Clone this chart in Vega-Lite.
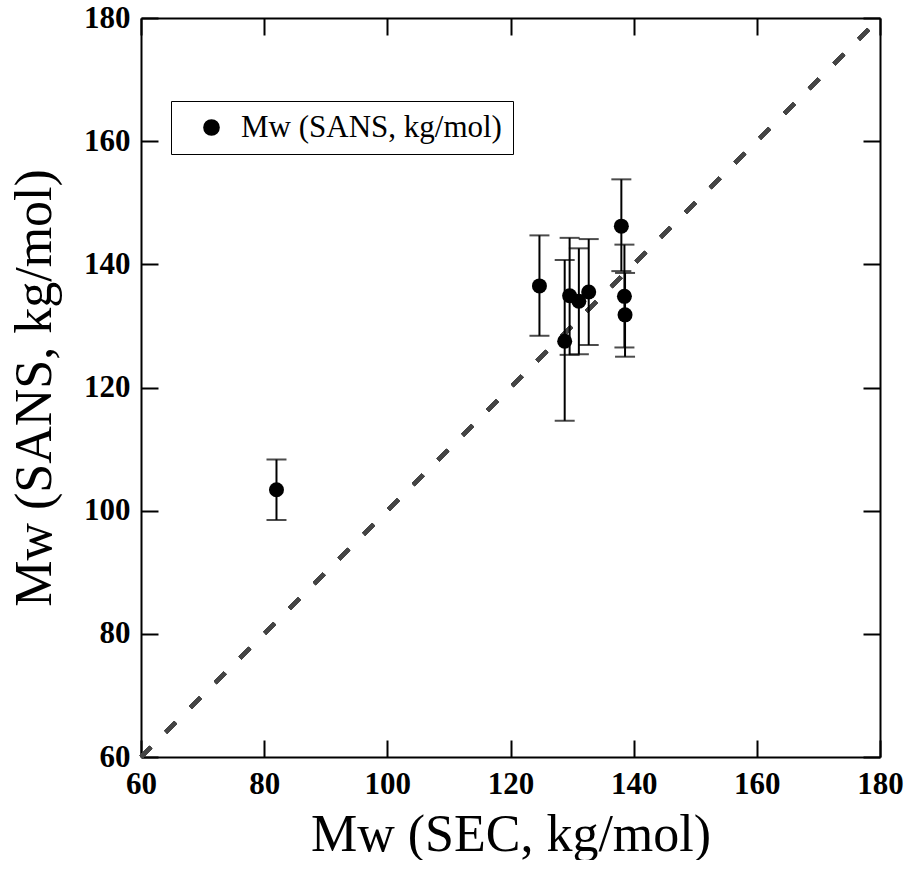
{
  "$schema": "https://vega.github.io/schema/vega-lite/v6.json",
  "width": 739,
  "height": 739,
  "padding": {"left": 8, "top": 2, "right": 2, "bottom": 0},
  "background": "white",
  "config": {
    "view": {"stroke": null},
    "axis": {
      "grid": false,
      "labelFlush": false,
      "domainColor": "black",
      "domainWidth": 2,
      "tickColor": "black",
      "tickWidth": 2,
      "tickSize": -17,
      "labelFont": "Liberation Serif",
      "labelFontWeight": "bold",
      "labelFontSize": 31,
      "labelColor": "black",
      "titleFont": "Liberation Serif",
      "titleFontWeight": "normal",
      "titleFontSize": 52,
      "titleColor": "black"
    }
  },
  "data": {
    "values": [
      {"sec": 82.0, "sans": 103.4, "lo": 98.5, "hi": 108.3},
      {"sec": 124.7, "sans": 136.5, "lo": 128.4, "hi": 144.7},
      {"sec": 128.8, "sans": 127.5, "lo": 114.6, "hi": 140.7},
      {"sec": 129.6, "sans": 134.9, "lo": 125.3, "hi": 144.3},
      {"sec": 131.1, "sans": 134.0, "lo": 125.4, "hi": 142.6},
      {"sec": 132.7, "sans": 135.5, "lo": 126.9, "hi": 144.1},
      {"sec": 138.0, "sans": 146.2, "lo": 138.9, "hi": 153.8},
      {"sec": 138.5, "sans": 134.8, "lo": 126.5, "hi": 143.2},
      {"sec": 138.6, "sans": 131.8, "lo": 125.0, "hi": 138.6}
    ]
  },
  "layer": [
    {
      "mark": {"type": "rule", "color": "#454545", "strokeWidth": 4, "strokeDash": [14, 21]},
      "encoding": {
        "x": {"datum": 60, "type": "quantitative", "scale": {"domain": [60, 180], "nice": false, "zero": false},
              "axis": {"orient": "top", "labels": false, "title": null, "values": [60, 80, 100, 120, 140, 160, 180]}},
        "y": {"datum": 60, "type": "quantitative", "scale": {"domain": [60, 180], "nice": false, "zero": false},
              "axis": {"orient": "right", "labels": false, "title": null, "values": [60, 80, 100, 120, 140, 160, 180]}},
        "x2": {"datum": 180},
        "y2": {"datum": 180}
      }
    },
    {
      "mark": {"type": "errorbar", "ticks": {"size": 20, "thickness": 2, "color": "black"}, "rule": {"strokeWidth": 2, "color": "black"}},
      "encoding": {
        "x": {"field": "sec", "type": "quantitative", "scale": {"domain": [60, 180], "nice": false, "zero": false}, "axis": null},
        "y": {"field": "lo", "type": "quantitative", "scale": {"domain": [60, 180], "nice": false, "zero": false}, "axis": null},
        "y2": {"field": "hi"}
      }
    },
    {
      "mark": {"type": "point", "filled": true, "size": 225, "opacity": 1, "shape": "circle"},
      "encoding": {
        "x": {"field": "sec", "type": "quantitative", "scale": {"domain": [60, 180], "nice": false, "zero": false},
              "axis": {"orient": "bottom", "title": "Mw (SEC, kg/mol)", "values": [60, 80, 100, 120, 140, 160, 180], "labelPadding": 29, "titlePadding": 10}},
        "y": {"field": "sans", "type": "quantitative", "scale": {"domain": [60, 180], "nice": false, "zero": false},
              "axis": {"orient": "left", "title": "Mw (SANS, kg/mol)", "values": [60, 80, 100, 120, 140, 160, 180], "labelPadding": 28, "titlePadding": 22}},
        "color": {
          "datum": "Mw (SANS, kg/mol)",
          "type": "nominal",
          "scale": {"range": ["black"]},
          "legend": {
            "title": null,
            "orient": "none",
            "legendX": 30,
            "legendY": 83,
            "strokeColor": "black",
            "padding": 11,
            "symbolType": "circle",
            "symbolSize": 230,
            "symbolFillColor": "black",
            "symbolStrokeColor": "black",
            "symbolOffset": 14,
            "labelOffset": 14,
            "labelFont": "Liberation Serif",
            "labelFontSize": 31,
            "labelColor": "black",
            "labelLimit": 0
          }
        }
      }
    }
  ],
  "resolve": {"axis": {"x": "independent", "y": "independent"}}
}
